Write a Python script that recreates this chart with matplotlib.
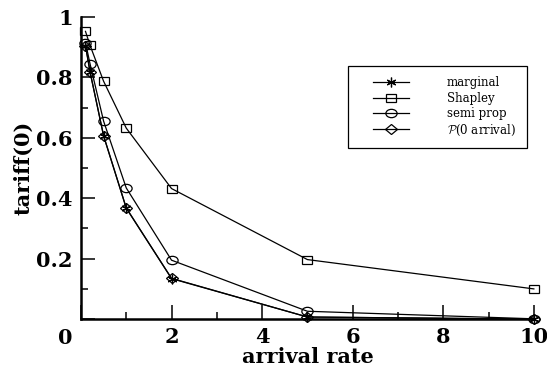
import numpy as np
import matplotlib
matplotlib.use('Agg')
import matplotlib.pyplot as plt
from matplotlib.markers import MarkerStyle
from matplotlib.transforms import Affine2D
from matplotlib.legend_handler import HandlerLine2D

plt.rcParams['font.family'] = 'DejaVu Serif'
plt.rcParams['mathtext.fontset'] = 'cm'

## the data
rates = [0.1, 0.2, 0.5, 1, 2, 5, 10]
marginal = [0.905, 0.818, 0.606, 0.367, 0.134, 0.007, 0.0]
shapley = [0.952, 0.906, 0.787, 0.632, 0.432, 0.197, 0.1]
semi_prop = [0.915, 0.845, 0.655, 0.434, 0.195, 0.026, 0.001]
p_zero = [0.905, 0.819, 0.607, 0.368, 0.135, 0.007, 0.0]

xticks = [0, 2, 4, 6, 8, 10]
yticks = [0, 0.2, 0.4, 0.6, 0.8, 1]
ytick_labels = ['', '0.2', '0.4', '0.6', '0.8', '1']

fig = plt.figure(figsize=(5.47, 3.75), dpi=100)
ax = fig.add_axes([0.148, 0.149, 0.828, 0.806])

# wide markers (the original plot was stretched horizontally)
wide = Affine2D().scale(1.4, 1.0)
sq = MarkerStyle('s', fillstyle='none', transform=wide)
circ = MarkerStyle('o', fillstyle='none', transform=Affine2D().scale(1.35, 1.0))
diam = MarkerStyle('D', fillstyle='none', transform=Affine2D().scale(1.15, 1.0))

common = dict(color='black', lw=0.9, mew=0.9, clip_on=False)
l1, = ax.plot(rates, marginal, marker=(6, 2, 0), ms=7, label='marginal', **common)
l2, = ax.plot(rates, shapley, marker=sq, ms=5.5, label='Shapley', **common)
l3, = ax.plot(rates, semi_prop, marker=circ, ms=6, label='semi prop', **common)
l4, = ax.plot(rates, p_zero, marker=diam, ms=5, label=r'$\mathcal{P}$(0 arrival)', **common)

# axes
ax.set_xlim(0, 10)
ax.set_ylim(0, 1)
for side in ['top', 'right']:
    ax.spines[side].set_visible(False)
for side in ['left', 'bottom']:
    ax.spines[side].set_linewidth(1.8)

ax.set_xticks(xticks)
ax.set_xticklabels([''] + [str(t) for t in xticks[1:]])
ax.set_xticks(np.arange(1, 10, 2), minor=True)
ax.set_yticks(yticks)
ax.set_yticklabels(ytick_labels)
ax.set_yticks(np.arange(0.1, 1.0, 0.2), minor=True)
ax.tick_params(which='major', direction='in', length=10, width=1.1,
               labelsize=15, pad=6)
ax.tick_params(which='minor', direction='in', length=5, width=1.1)
for lab in ax.get_xticklabels() + ax.get_yticklabels():
    lab.set_fontweight('bold')
ax.text(-0.035, -0.03, '0', transform=ax.transAxes, ha='center', va='top',
        fontsize=15, fontweight='bold')

ax.set_xlabel('arrival rate', fontsize=15, fontweight='bold', labelpad=0)
ax.set_ylabel('tariff(0)', fontsize=15, fontweight='bold', labelpad=2)

## add a legend
hmap = {h: HandlerLine2D(xpad=1.2) for h in (l1, l2, l3, l4)}
leg = ax.legend(handles=[l1, l2, l3, l4], loc='upper left',
                bbox_to_anchor=(0.589, 0.838), borderaxespad=0,
                fontsize=8.5, handlelength=4.3, handletextpad=3.2,
                borderpad=0.9, labelspacing=0.2, fancybox=False,
                framealpha=1, edgecolor='black', handler_map=hmap)
leg.get_frame().set_linewidth(0.9)

fig.savefig('out.png', dpi=100)
